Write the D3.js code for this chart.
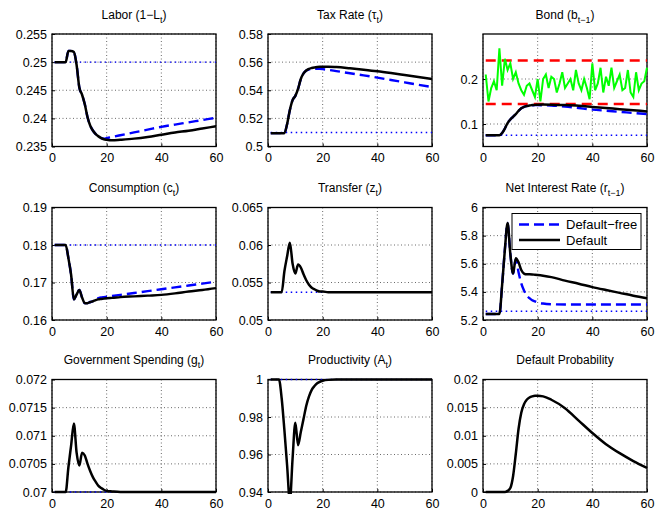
<!DOCTYPE html>
<html>
<head>
<meta charset="utf-8">
<script src="https://cdn.jsdelivr.net/npm/d3@7"></script>
<style>
  body { margin: 0; background: #fff; }
  text { font-family: "Liberation Sans", Arial, Helvetica, sans-serif; fill: #000; }
</style>
</head>
<body>
<svg id="chart" width="655" height="510"></svg>
<script>
// time points (periods)
var T = [1,2,3,4,5,6,7,8,9,10,11,12,13,14,15,16,17,18,19,20,22,25,30,35,40,45,50,55,60];
var xTicks = [0, 20, 40, 60];

// Labor (1-L)
var laborTicks = [0.235, 0.24, 0.245, 0.25, 0.255];
var laborDefault = [0.25,0.25,0.25,0.25,0.25,0.252,0.252,0.2518,0.2495,0.2455,0.2442,0.2425,0.2402,0.2387,0.2378,0.2372,0.2368,0.2365,0.2363,0.2362,
  0.2361,0.2362,0.2364,0.2367,0.2371,0.2375,0.2378,0.2382,0.2386];
var laborFree = [0.25,0.25,0.25,0.25,0.25,0.252,0.252,0.2518,0.2495,0.2455,0.2442,0.2425,0.2402,0.2387,0.2378,0.2372,0.2368,0.2365,0.2364,0.2365,
  0.2367,0.237,0.2375,0.238,0.2385,0.2389,0.2393,0.2397,0.2401];

// Tax rate
var taxTicks = [0.5, 0.52, 0.54, 0.56, 0.58];
var taxDefault = [0.5095,0.5095,0.5095,0.5095,0.5095,0.5095,0.516,0.526,0.533,0.536,0.541,0.548,0.552,0.554,0.5552,0.5558,0.5562,0.5565,0.5567,0.5568,
  0.5568,0.5565,0.5556,0.5546,0.5535,0.5522,0.5508,0.5494,0.548];
var taxFree = [0.5095,0.5095,0.5095,0.5095,0.5095,0.5095,0.516,0.526,0.533,0.536,0.541,0.548,0.552,0.554,0.5548,0.5552,0.5553,0.5553,0.5552,0.555,
  0.5545,0.5536,0.5521,0.5506,0.549,0.5473,0.5456,0.5439,0.5423];

// Bond
var bondTicks = [0.1, 0.2];
var bondDefault = [0.075,0.075,0.075,0.075,0.075,0.075,0.08,0.09,0.102,0.11,0.116,0.122,0.129,0.135,0.138,0.14,0.141,0.142,0.1425,0.143,
  0.1432,0.143,0.142,0.1405,0.138,0.1355,0.133,0.1305,0.128];
var bondFree = [0.075,0.075,0.075,0.075,0.075,0.075,0.08,0.09,0.102,0.11,0.116,0.122,0.129,0.135,0.138,0.14,0.141,0.1415,0.142,0.142,
  0.1415,0.141,0.139,0.1355,0.132,0.1295,0.127,0.1245,0.122];
var bondBounds = [0.241, 0.1445];
var bondSim = [0.21,0.15,0.18,0.195,0.175,0.268,0.185,0.245,0.22,0.235,0.2,0.215,0.19,0.175,0.165,0.185,0.19,0.175,0.16,0.2,
  0.15,0.2,0.21,0.18,0.205,0.2,0.17,0.19,0.215,0.18,0.19,0.2,0.175,0.22,0.19,0.175,0.2,0.18,0.155,0.235,
  0.175,0.19,0.225,0.17,0.205,0.185,0.225,0.18,0.195,0.21,0.175,0.18,0.22,0.17,0.16,0.215,0.175,0.19,0.195,0.225];

// Consumption
var consTicks = [0.16, 0.17, 0.18, 0.19];
var consDefault = [0.18,0.18,0.18,0.18,0.18,0.1765,0.172,0.1655,0.1668,0.168,0.166,0.1645,0.1645,0.1648,0.165,0.1653,0.1655,0.1656,0.1657,0.1658,
  0.1659,0.1661,0.1663,0.1665,0.1667,0.1671,0.1676,0.168,0.1685];
var consFree = [0.18,0.18,0.18,0.18,0.18,0.1765,0.172,0.1655,0.1668,0.168,0.166,0.1645,0.1645,0.1648,0.165,0.1655,0.1658,0.166,0.1661,0.1662,
  0.1664,0.1667,0.1672,0.1677,0.1682,0.1687,0.1692,0.1697,0.1702];

// Transfer
var transTicks = [0.05, 0.055, 0.06, 0.065];
var transDefault = [0.0537,0.0537,0.0537,0.0537,0.0537,0.0565,0.0585,0.0603,0.0575,0.0562,0.0574,0.057,0.0561,0.0553,0.0547,0.0543,0.0541,0.0539,0.0538,0.0538,
  0.0537,0.0537,0.0537,0.0537,0.0537,0.0537,0.0537,0.0537,0.0537];

// Net interest rate
var rateTicks = [5.2, 5.4, 5.6, 5.8, 6];
var rateDefault = [5.243,5.243,5.243,5.243,5.243,5.243,5.45,5.7,5.89,5.67,5.53,5.64,5.61,5.555,5.53,5.525,5.525,5.524,5.522,5.52,
  5.515,5.505,5.48,5.458,5.434,5.413,5.393,5.373,5.355];
var rateFree = [5.243,5.243,5.243,5.243,5.243,5.243,5.45,5.7,5.89,5.67,5.53,5.63,5.54,5.46,5.41,5.375,5.355,5.34,5.332,5.325,
  5.317,5.312,5.31,5.31,5.31,5.31,5.31,5.31,5.31];

// Government spending
var govTicks = [0.07, 0.0705, 0.071, 0.0715, 0.072];
var govDefault = [0.07,0.07,0.07,0.07,0.07,0.07044,0.07083,0.07122,0.0707,0.07047,0.0707,0.07065,0.0705,0.07037,0.07026,0.07018,0.07011,0.07007,0.07004,0.07002,
  0.07001,0.07,0.07,0.07,0.07,0.07,0.07,0.07,0.07];

// Productivity
var prodTicks = [0.94, 0.96, 0.98, 1];
var prodDefault = [1,1,1,1,0.99,0.973,0.954,0.935,0.958,0.977,0.965,0.972,0.979,0.986,0.991,0.9945,0.9965,0.998,0.9988,0.9993,
  0.9998,1,1,1,1,1,1,1,1];

// Default probability
var probTicks = [0, 0.005, 0.01, 0.015, 0.02];
var probDefault = [0,0,0,0,0,0,0,0,0.0002,0.0007,0.0028,0.0068,0.0112,0.0141,0.0156,0.0164,0.0168,0.017,0.0171,0.0171,
  0.017,0.0164,0.0149,0.0127,0.0105,0.0085,0.0069,0.0055,0.0043];

var panels = [
  { title: ["Labor (1\u2212L", "t", ")"], ticks: laborTicks, base: 0.25, def: laborDefault, free: laborFree },
  { title: ["Tax Rate (\u03c4", "t", ")"], ticks: taxTicks, base: 0.51, def: taxDefault, free: taxFree },
  { title: ["Bond (b", "t\u22121", ")"], ticks: bondTicks, domain: [0.05, 0.3], base: 0.075, def: bondDefault, free: bondFree, bond: true },
  { title: ["Consumption (c", "t", ")"], ticks: consTicks, base: 0.18, def: consDefault, free: consFree },
  { title: ["Transfer (z", "t", ")"], ticks: transTicks, base: 0.0537, def: transDefault },
  { title: ["Net Interest Rate (r", "t\u22121", ")"], ticks: rateTicks, base: 5.262, def: rateDefault, free: rateFree, legend: true },
  { title: ["Government Spending (g", "t", ")"], ticks: govTicks, base: 0.07, def: govDefault },
  { title: ["Productivity (A", "t", ")"], ticks: prodTicks, base: 1, def: prodDefault },
  { title: ["Default Probability"], ticks: probTicks, def: probDefault }
];

var cols = [52, 268, 483],
  rows = [34, 207.5, 379.5],
  w = 164,
  h = 112.5;

var svg = d3.select("#chart");

panels.forEach(function (p, i) {
  var g = svg.append("g")
    .attr("transform", "translate(" + cols[i % 3] + "," + rows[Math.floor(i / 3)] + ")");

  var x = d3.scaleLinear().domain([0, 60]).range([0, w]);
  var dom = p.domain || [p.ticks[0], p.ticks[p.ticks.length - 1]];
  var y = d3.scaleLinear().domain(dom).range([h, 0]);

  // grid
  g.selectAll(".gx").data(xTicks).join("line")
    .attr("x1", d => x(d)).attr("x2", d => x(d)).attr("y1", 0).attr("y2", h)
    .attr("stroke", "#444").attr("stroke-width", 0.8).attr("stroke-dasharray", "1,2.5");
  g.selectAll(".gy").data(p.ticks).join("line")
    .attr("y1", d => y(d)).attr("y2", d => y(d)).attr("x1", 0).attr("x2", w)
    .attr("stroke", "#444").attr("stroke-width", 0.8).attr("stroke-dasharray", "1,2.5");

  // axes
  var ax = g.append("g").attr("transform", "translate(0," + h + ")")
    .call(d3.axisBottom(x).tickValues(xTicks).tickSize(-3).tickPadding(7).tickFormat(d3.format("~g")));
  var ay = g.append("g")
    .call(d3.axisLeft(y).tickValues(p.ticks).tickSize(-3).tickPadding(5).tickFormat(d3.format("~g")));
  [ax, ay].forEach(function (a) {
    a.select(".domain").remove();
    a.selectAll("text").style("font-size", "12.5px").attr("fill", "#000");
    a.selectAll("line").attr("stroke", "#000");
  });

  // frame
  g.append("rect").attr("width", w).attr("height", h)
    .attr("fill", "none").attr("stroke", "#000").attr("stroke-width", 1.3);

  // title
  var t = g.append("text").attr("x", w / 2).attr("y", -15.5)
    .attr("text-anchor", "middle").style("font-size", "12px");
  t.append("tspan").text(p.title[0]);
  if (p.title.length > 1) {
    t.append("tspan").attr("dy", 4).style("font-size", "9px").text(p.title[1]);
    t.append("tspan").attr("dy", -4).text(p.title[2]);
  }

  var clipId = "clip" + i;
  g.append("clipPath").attr("id", clipId).append("rect")
    .attr("x", -2).attr("y", -2).attr("width", w + 4).attr("height", h + 4);
  var plot = g.append("g").attr("clip-path", "url(#" + clipId + ")");

  var line = d3.line().curve(d3.curveMonotoneX).x((d, k) => x(T[k])).y(d => y(d));

  if (p.base !== undefined) {
    plot.append("line")
      .attr("x1", x(1)).attr("x2", x(60)).attr("y1", y(p.base)).attr("y2", y(p.base))
      .attr("stroke", "#0000ff").attr("stroke-width", 1.4).attr("stroke-dasharray", "1.5,3.5");
  }

  if (p.bond) {
    plot.selectAll(".bound").data(bondBounds).join("line")
      .attr("x1", x(1)).attr("x2", x(60)).attr("y1", d => y(d)).attr("y2", d => y(d))
      .attr("stroke", "#ff0000").attr("stroke-width", 2.5).attr("stroke-dasharray", "10,6");
    plot.append("path").datum(bondSim)
      .attr("d", d3.line().x((d, k) => x(k + 1)).y(d => y(d)))
      .attr("fill", "none").attr("stroke", "#00ff00").attr("stroke-width", 2);
  }

  if (p.free) {
    plot.append("path").datum(p.free).attr("d", line)
      .attr("fill", "none").attr("stroke", "#0000ff").attr("stroke-width", 2.4)
      .attr("stroke-dasharray", "10,5");
  }
  plot.append("path").datum(p.def).attr("d", line)
    .attr("fill", "none").attr("stroke", "#000").attr("stroke-width", 2.5)
    .attr("stroke-linejoin", "round");

  if (p.legend) {
    var lg = g.append("g").attr("transform", "translate(29,6)");
    lg.append("rect").attr("width", 129).attr("height", 36)
      .attr("fill", "#fff").attr("stroke", "#000").attr("stroke-width", 1);
    var items = [
      { name: "Default\u2212free", color: "#0000ff", dash: "10,5" },
      { name: "Default", color: "#000", dash: null }
    ];
    items.forEach(function (it, k) {
      var yy = 11 + k * 15.5;
      lg.append("line").attr("x1", 7).attr("x2", 48).attr("y1", yy).attr("y2", yy)
        .attr("stroke", it.color).attr("stroke-width", 2.5).attr("stroke-dasharray", it.dash);
      lg.append("text").attr("x", 54).attr("y", yy + 4.5).style("font-size", "13px").text(it.name);
    });
  }
});
</script>
</body>
</html>
